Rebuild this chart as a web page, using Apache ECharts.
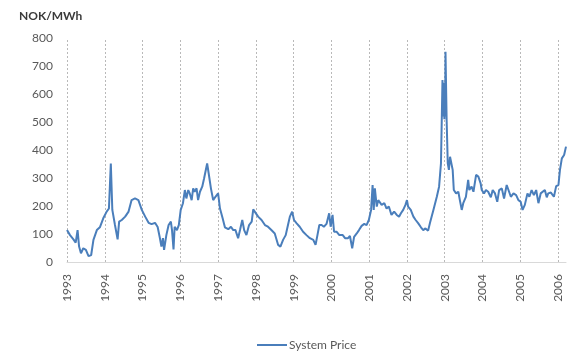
<!DOCTYPE html>
<html>
<head>
<meta charset="utf-8">
<script src="https://cdn.jsdelivr.net/npm/echarts@6/dist/echarts.min.js"></script>
<style>
  html, body { margin: 0; padding: 0; background: #fff; }
  #chart { width: 573px; height: 354px; }
</style>
</head>
<body>
<div id="chart"></div>
<script>
// Nord Pool system price, NOK/MWh, sampled by date (decimal years)
const dates = [
  1993.00, 1993.08, 1993.17, 1993.23, 1993.28, 1993.32, 1993.37, 1993.43, 1993.50, 1993.57,
  1993.64, 1993.70, 1993.79, 1993.87, 1993.96, 1994.05, 1994.11, 1994.16, 1994.20, 1994.27,
  1994.34, 1994.38, 1994.45, 1994.54, 1994.63, 1994.71, 1994.80, 1994.89, 1994.98, 1995.07,
  1995.16, 1995.24, 1995.33, 1995.40, 1995.46, 1995.50, 1995.54, 1995.57, 1995.63, 1995.69,
  1995.75, 1995.78, 1995.82, 1995.85, 1995.91, 1995.96, 1996.01, 1996.07, 1996.12, 1996.16,
  1996.21, 1996.25, 1996.30, 1996.34, 1996.38, 1996.43, 1996.47, 1996.52, 1996.58, 1996.63,
  1996.67, 1996.71, 1996.75, 1996.81, 1996.87, 1996.93, 1997.00, 1997.05, 1997.12, 1997.18,
  1997.27, 1997.34, 1997.40, 1997.46, 1997.53, 1997.58, 1997.64, 1997.69, 1997.75, 1997.82,
  1997.89, 1997.93, 1997.97, 1998.06, 1998.15, 1998.24, 1998.32, 1998.41, 1998.46, 1998.50,
  1998.59, 1998.65, 1998.72, 1998.79, 1998.85, 1998.90, 1998.96, 1999.01, 1999.08, 1999.16,
  1999.25, 1999.34, 1999.43, 1999.52, 1999.58, 1999.63, 1999.68, 1999.74, 1999.80, 1999.87,
  1999.94, 1999.98, 2000.03, 2000.07, 2000.14, 2000.21, 2000.30, 2000.36, 2000.44, 2000.49,
  2000.55, 2000.60, 2000.67, 2000.73, 2000.80, 2000.87, 2000.93, 2000.99, 2001.05, 2001.09,
  2001.12, 2001.15, 2001.20, 2001.24, 2001.28, 2001.33, 2001.40, 2001.46, 2001.52, 2001.59,
  2001.66, 2001.73, 2001.79, 2001.84, 2001.90, 2001.96, 2002.00, 2002.03, 2002.10, 2002.17,
  2002.23, 2002.30, 2002.37, 2002.43, 2002.49, 2002.56, 2002.61, 2002.70, 2002.79, 2002.85,
  2002.90, 2002.94, 2002.96, 2002.97, 2002.99, 2003.00, 2003.01, 2003.02, 2003.05, 2003.08,
  2003.11, 2003.14, 2003.17, 2003.21, 2003.24, 2003.30, 2003.36, 2003.40, 2003.45, 2003.49,
  2003.56, 2003.62, 2003.65, 2003.71, 2003.76, 2003.83, 2003.89, 2003.95, 2003.98, 2004.04,
  2004.09, 2004.15, 2004.22, 2004.27, 2004.33, 2004.39, 2004.44, 2004.51, 2004.57, 2004.64,
  2004.68, 2004.75, 2004.82, 2004.89, 2004.95, 2005.01, 2005.06, 2005.12, 2005.19, 2005.24,
  2005.30, 2005.36, 2005.42, 2005.48, 2005.54, 2005.59, 2005.65, 2005.70, 2005.74, 2005.81,
  2005.86, 2005.89, 2005.95, 2006.01, 2006.05, 2006.10, 2006.16, 2006.21
];

const prices = [
  114, 96, 81, 69, 114, 55, 31, 49, 43, 21,
  25, 79, 114, 124, 156, 180, 191, 352, 186, 132,
  81, 144, 150, 162, 180, 221, 227, 221, 186, 162,
  140, 135, 140, 125, 85, 55, 85, 43, 96, 132,
  144, 114, 45, 126, 114, 132, 186, 210, 257, 227,
  257, 245, 221, 263, 251, 263, 221, 251, 269, 299,
  293, 352, 317, 263, 221, 233, 245, 191, 156, 124,
  117, 126, 114, 114, 85, 114, 150, 114, 96, 132,
  144, 188, 180, 162, 150, 132, 126, 114, 120, 102,
  61, 55, 79, 96, 132, 162, 180, 150, 138, 126,
  108, 96, 85, 79, 61, 96, 132, 132, 126, 136,
  174, 126, 168, 108, 108, 96, 96, 85, 85, 93,
  49, 90, 102, 114, 129, 136, 132, 150, 186, 275,
  186, 263, 198, 221, 227, 204, 210, 191, 198, 168,
  180, 168, 162, 174, 186, 204, 221, 198, 186, 162,
  150, 138, 124, 114, 120, 112, 140, 186, 233, 269,
  352, 650, 520, 640, 510, 600, 520, 751, 507, 352,
  329, 376, 382, 329, 257, 245, 251, 221, 186, 210,
  233, 293, 257, 269, 251, 311, 305, 281, 257, 245,
  257, 251, 231, 257, 245, 215, 257, 263, 227, 275,
  269, 233, 245, 239, 221, 215, 186, 204, 245, 233,
  257, 239, 257, 210, 245, 239, 257, 231, 245, 248,
  251, 233, 271, 275, 329, 370, 382, 412
];

const yearTicks = [1993, 1994, 1995, 1996, 1997, 1998, 1999, 2000, 2001, 2002, 2003, 2004, 2005, 2006];
const seriesName = 'System Price';
const unitLabel = 'NOK/MWh';

const textColor = '#595959';
const lineColor = '#4a7ebb';
const font = 'Lato, "Open Sans", sans-serif';

const chart = echarts.init(document.getElementById('chart'), null, { renderer: 'canvas' });

chart.setOption({
  animation: false,
  backgroundColor: '#ffffff',
  title: {
    text: unitLabel,
    left: 14,
    top: 5,
    textStyle: { fontFamily: font, fontSize: 12, fontWeight: 'bold', color: '#3a3a3a' }
  },
  legend: {
    data: [seriesName],
    left: 252,
    top: 334,
    itemWidth: 30,
    itemHeight: 12,
    itemGap: 4,
    textStyle: { fontFamily: font, fontSize: 12, color: textColor, padding: [0, 0, 0, -3] },
    icon: 'path://M0,5 L30,5 L30,7 L0,7 Z'
  },
  grid: { left: 67, right: 7, top: 38, bottom: 92, containLabel: false },
  xAxis: {
    type: 'value',
    min: yearTicks[0],
    max: dates[dates.length - 1],
    interval: 1,
    axisLine: { show: true, lineStyle: { color: '#d9d9d9', width: 1 } },
    axisTick: { show: false },
    splitLine: { show: false },
    axisLabel: {
      rotate: 90,
      margin: 12,
      fontFamily: font,
      fontSize: 12,
      color: textColor,
      showMaxLabel: false,
      formatter: v => (Number.isInteger(v) ? String(v) : '')
    }
  },
  yAxis: {
    type: 'value',
    min: 0,
    max: 800,
    interval: 100,
    axisLine: { show: false },
    axisTick: { show: false },
    splitLine: { show: false },
    axisLabel: { margin: 14, fontFamily: font, fontSize: 12, color: textColor }
  },
  series: [{
    name: seriesName,
    type: 'line',
    symbol: 'none',
    data: dates.map((d, i) => [d, prices[i]]),
    lineStyle: { color: lineColor, width: 2 },
    itemStyle: { color: lineColor },
    z: 3,
    markLine: {
      silent: true,
      symbol: ['none', 'none'],
      label: { show: false },
      lineStyle: { color: '#b9b9b9', type: [2, 2], width: 1 },
      data: yearTicks.map(y => ({ xAxis: y })),
      z: 1
    }
  }]
});
</script>
</body>
</html>
